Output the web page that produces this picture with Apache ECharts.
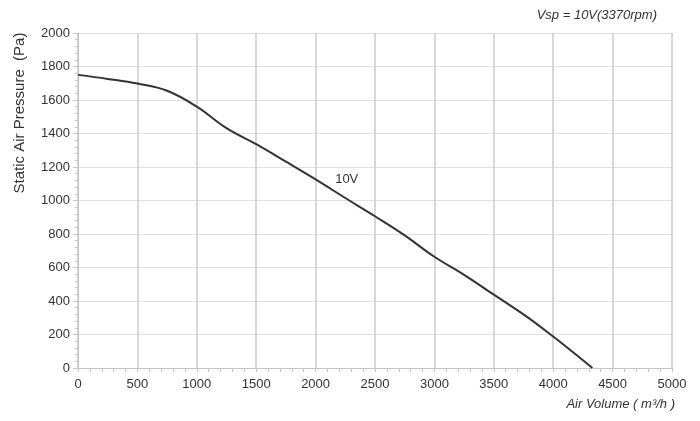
<!DOCTYPE html>
<html>
<head>
<meta charset="utf-8">
<script src="https://cdn.jsdelivr.net/npm/echarts@6/dist/echarts.min.js"></script>
<style>html,body{margin:0;padding:0;background:#fff}#c{width:700px;height:421px}</style>
</head>
<body>
<div id="c"></div>
<script>
// Air volume (m³/h) and static pressure (Pa)
const airVolume = [0, 250, 500, 750, 1000, 1250, 1500, 1750, 2000, 2250, 2500, 2750, 3000, 3250, 3500, 3750, 4000, 4170, 4330];
const pressure  = [1750, 1726, 1698, 1655, 1560, 1432, 1336, 1232, 1126, 1015, 906, 792, 664, 556, 438, 320, 188, 92, 0];
const curveName = '10V';
const curveLabelAt = [2262, 1124];
const xTicks = {min: 0, max: 5000, interval: 500};
const yTicks = {min: 0, max: 2000, interval: 200};
const titleText = 'Vsp = 10V(3370rpm)';
const yAxisTitle = 'Static Air Pressure  (Pa)';
const xAxisTitle = 'Air Volume ( m³/h )';

const chart = echarts.init(document.getElementById('c'));
const font = 'Liberation Sans, Arial, sans-serif';
chart.setOption({
  animation: false,
  backgroundColor: '#fff',
  title: {
    text: titleText, right: 38, top: 4,
    textStyle: {fontFamily: font, fontSize: 13, fontStyle: 'italic', fontWeight: 'normal', color: '#333'}
  },
  graphic: [{
    type: 'text', x: 20, y: 113, rotation: Math.PI / 2,
    style: {text: yAxisTitle, fontFamily: font, fontSize: 15, fill: '#333', textAlign: 'center', textVerticalAlign: 'middle'}
  }],
  grid: {left: 78, right: 28, top: 33, bottom: 53, containLabel: false},
  xAxis: {
    type: 'value', min: xTicks.min, max: xTicks.max, interval: xTicks.interval,
    name: xAxisTitle, nameLocation: 'end', nameGap: 3,
    nameTextStyle: {fontFamily: font, fontSize: 13, fontStyle: 'italic', color: '#333', align: 'right', verticalAlign: 'top', padding: [30, 0, 0, 0]},
    axisLine: {show: true, lineStyle: {color: '#c4c4c4', width: 1}},
    axisTick: {show: true, length: 4, inside: false, lineStyle: {color: '#c4c4c4'}},
    minorTick: {show: true, splitNumber: 5, length: 4, lineStyle: {color: '#c4c4c4'}},
    axisLabel: {fontFamily: font, fontSize: 13, color: '#333', margin: 10, formatter: v => String(v)},
    splitLine: {show: true, lineStyle: {color: '#cfcfcf', width: 1.6}}
  },
  yAxis: {
    type: 'value', min: yTicks.min, max: yTicks.max, interval: yTicks.interval,
    axisLine: {show: true, lineStyle: {color: '#c4c4c4', width: 1}},
    axisTick: {show: true, length: 5, lineStyle: {color: '#c4c4c4'}},
    minorTick: {show: true, splitNumber: 5, length: 3, lineStyle: {color: '#c4c4c4'}},
    axisLabel: {fontFamily: font, fontSize: 13, color: '#333', margin: 8, formatter: v => String(v)},
    splitLine: {show: true, lineStyle: {color: '#e0e0e0', width: 1.2}}
  },
  series: [{
    type: 'line', name: curveName, smooth: 0.4, showSymbol: false, symbol: 'none',
    data: airVolume.map((v, i) => [v, pressure[i]]),
    lineStyle: {color: '#333', width: 2},
    markPoint: {
      symbol: 'circle', symbolSize: 0,
      label: {show: true, formatter: curveName, position: 'inside', fontFamily: font, fontSize: 13, color: '#333'},
      data: [{coord: curveLabelAt}]
    }
  }]
});
</script>
</body>
</html>
